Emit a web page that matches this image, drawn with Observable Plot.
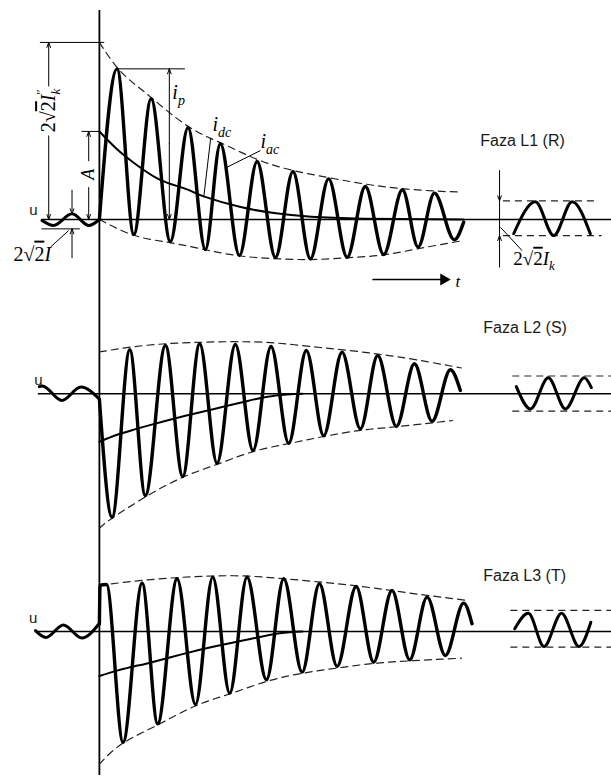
<!DOCTYPE html>
<html><head><meta charset="utf-8">
<script src="https://cdn.jsdelivr.net/npm/d3@7"></script>
<script src="https://cdn.jsdelivr.net/npm/@observablehq/plot@0.6"></script>
<style>
html,body{margin:0;padding:0;background:#fff;}
#chart svg{display:block;}
</style></head><body><div id="chart"></div>
<script>
// ---------------- DATA (time t in ms, current in p.u. of initial AC amplitude) ----------------
const phaseLabels = ["Faza L1 (R)", "Faza L2 (S)", "Faza L3 (T)"];

// Phase L1
const l1Pre    = [[-32.5,-0.01],[-25.9,-0.067],[-15.5,0.064],[-6.0,-0.067],[0,0]];
const l1Fault  = [[0,0],[10.0,1.693],[19.5,-0.169],[29.3,1.356],[40.2,-0.247],[50.2,1.034],[60,-0.337],[68.5,0.851],[79.3,-0.404],[89.3,0.652],[99.7,-0.427],[109.6,0.539],[119.5,-0.442],[129.8,0.457],[140.3,-0.424],[150.6,0.371],[161,-0.393],[171.6,0.334],[180.5,-0.31],[189.7,0.296],[201,-0.228],[206.3,-0.03]];
const l1Upper  = [[0,1.99],[10,1.71],[20,1.52],[30,1.36],[50,1.05],[70,0.85],[90,0.67],[110,0.55],[130,0.47],[150,0.40],[170,0.35],[190,0.32],[203,0.31]];
const l1Lower  = [[0,0],[20,-0.18],[40,-0.26],[60,-0.34],[80,-0.41],[100,-0.44],[120,-0.45],[140,-0.43],[160,-0.40],[180,-0.33],[205,-0.24]];
const l1Dc     = [[0,0.99],[10,0.79],[20,0.63],[33,0.46],[45,0.37],[52,0.32],[59,0.26],[80,0.14],[100,0.07],[120,0.03],[150,0.01],[206,0.0]];
const l1Steady = [[234.6,-0.16],[246.9,0.20],[257.3,-0.18],[267.7,0.20],[278.0,-0.16]];
const l1Band   = [{y:0.21, x1:228.8, x2:280.9},{y:-0.18, x1:228.8, x2:284.7}];

// Phase L2
const l2Pre    = [[-34.0,0.08],[-32.3,0.088],[-21.2,-0.075],[-10.5,0.076],[0,-0.06]];
const l2Fault  = [[0,-0.06],[7.2,-1.387],[17.2,0.494],[26,-1.143],[37.4,0.543],[47.2,-0.929],[56.8,0.562],[66.6,-0.780],[77,0.554],[87,-0.637],[97.2,0.531],[107.2,-0.555],[117.2,0.487],[127,-0.471],[137.4,0.467],[147.8,-0.393],[157.6,0.430],[168.2,-0.367],[178.4,0.337],[188.4,-0.308],[198.8,0.270],[204.4,0.037]];
const l2Upper  = [[0,0.47],[20,0.53],[40,0.565],[60,0.58],[80,0.585],[100,0.57],[120,0.53],[140,0.49],[160,0.44],[180,0.38],[205,0.29]];
const l2Lower  = [[0,-1.51],[7,-1.40],[26,-1.16],[47,-0.94],[67,-0.79],[87,-0.65],[107,-0.56],[127,-0.48],[148,-0.41],[168,-0.37],[200,-0.30]];
const l2Dc     = [[0,-0.54],[10,-0.46],[20,-0.40],[27,-0.36],[46,-0.26],[65,-0.17],[84,-0.08],[100,-0.02],[115,0]];
const l2Steady = [[236.1,0.08],[244.1,-0.17],[254.2,0.18],[263.9,-0.17],[274.6,0.18],[278.6,0.07]];
const l2Band   = [{y:0.20, x1:234.1, x2:290},{y:-0.195, x1:234.1, x2:290}];

// Phase L3
const l3Pre    = [[-36.2,0.01],[-30.3,-0.067],[-20.4,0.073],[-9.9,-0.073],[-0.3,0.084]];
const l3Fault  = [[0,0.084],[0.4,0.52],[4.0,0.528],[13.4,-1.244],[24.2,0.543],[33,-1.037],[44,0.592],[54.4,-0.820],[64.2,0.610],[73.8,-0.693],[83.6,0.610],[94.6,-0.543],[104.4,0.592],[114.8,-0.457],[124.6,0.536],[134.6,-0.393],[145.4,0.506],[155.3,-0.345],[165.7,0.461],[175.7,-0.318],[185.6,0.386],[195.9,-0.270],[206.3,0.318],[211,0.087]];
const l3Upper  = [[0,0.52],[20,0.565],[40,0.60],[60,0.62],[80,0.625],[100,0.60],[120,0.565],[140,0.525],[160,0.475],[180,0.42],[208,0.35]];
const l3Lower  = [[0,-1.49],[13,-1.26],[33,-1.05],[54,-0.84],[74,-0.70],[95,-0.56],[115,-0.47],[135,-0.41],[155,-0.36],[176,-0.33],[205,-0.30]];
const l3Dc     = [[0,-0.50],[10,-0.44],[20,-0.39],[27,-0.36],[46,-0.26],[65,-0.17],[84,-0.09],[102,-0.02],[115,0]];
const l3Steady = [[235.2,0.03],[242.9,0.205],[251.8,-0.169],[261.7,0.205],[271.6,-0.169],[278.3,0.104]];
const l3Band   = [{y:0.236, x1:233, x2:290},{y:-0.176, x1:233, x2:290}];

// Phase L1 dimension annotations (values in data units)
const dimLines = [
  {y:1.99,  x1:-33.4, x2:3},     // 2√2I"k level
  {y:0.99,  x1:-9.8,  x2:0.5},   // A level
  {y:1.693, x1:10.8,  x2:48.7},  // ip level
  {y:-0.105,x1:-32.5, x2:-10.8}  // 2√2I bottom level
];
const dimArrows = [
  {x1:-28.7,y1:1.50,x2:-28.7,y2:1.99},{x1:-28.7,y1:0.94,x2:-28.7,y2:0.0},
  {x1:-6.06,y1:0.66,x2:-6.06,y2:0.99},{x1:-6.06,y1:0.36,x2:-6.06,y2:0.0},
  {x1:39.6,y1:0.85,x2:39.6,y2:1.693},{x1:39.6,y1:0.85,x2:39.6,y2:0.0},
  {x1:-15.5,y1:0.33,x2:-15.5,y2:0.064},{x1:-15.5,y1:-0.43,x2:-15.5,y2:-0.105},
  {x1:226.6,y1:0.55,x2:226.6,y2:0.21},{x1:226.6,y1:-0.535,x2:226.6,y2:-0.18}
];
const dimVertical = [{x:226.6, y1:0.21, y2:-0.18}];
const leaders = [
  {x1:63.0,y1:0.91,x2:59.1,y2:0.251},
  {x1:91.2,y1:0.775,x2:72.3,y2:0.588},
  {x1:-27.7,y1:-0.31,x2:-17.4,y2:-0.124},
  {x1:227.1,y1:-0.087,x2:239.4,y2:-0.35}
];
const timeArrow = [{x1:154.6, y1:-0.674, x2:195, y2:-0.674}];

// labels (key -> rich markup)
const IT = 'font-style="italic"';
const richText = {
  "@Ik2": `2√<tspan style="text-decoration:overline">2</tspan><tspan ${IT}>I</tspan><tspan ${IT} dy="5" font-size="13">k</tspan><tspan dx="-6" dy="-15" font-size="13">″</tspan>`,
  "@A":   'A',
  "@ip":  'i<tspan dy="6" font-size="14">p</tspan>',
  "@idc": 'i<tspan dy="6" font-size="14">dc</tspan>',
  "@iac": 'i<tspan dy="6" font-size="14">ac</tspan>',
  "@I2":  `2√<tspan style="text-decoration:overline">2</tspan><tspan ${IT}>I</tspan>`,
  "@Ik":  `2√<tspan style="text-decoration:overline">2</tspan><tspan ${IT}>I</tspan><tspan ${IT} dy="5" font-size="13">k</tspan>`,
  "@t":   't'
};

// ---------------- LAYOUT ----------------
const W = 611;
const T_DOMAIN = [-56, 290];
const INK = "#000";
const SERIF = "'Liberation Serif','Times New Roman',serif";
const SANS = "'Liberation Sans',Arial,sans-serif";

const panels = [
  {height:300, yDomain:[-0.910, 2.461], axis:[2.35,-0.910], zeroFrom:-32.5,
   pre:l1Pre, fault:l1Fault, upper:l1Upper, lower:l1Lower, dc:l1Dc, steady:l1Steady, band:l1Band,
   label:phaseLabels[0], labelPos:[215.7,0.888], uPos:[-37.4,0.10], extras:true},
  {height:240, yDomain:[-1.648, 1.048], axis:[1.048,-1.648], zeroFrom:-34.6,
   pre:l2Pre, fault:l2Fault, upper:l2Upper, lower:l2Lower, dc:l2Dc, steady:l2Steady, band:l2Band,
   label:phaseLabels[1], labelPos:[217.4,0.745], uPos:[-34.5,0.15]},
  {height:243, yDomain:[-1.708, 1.022], axis:[1.022,-1.618], zeroFrom:-36.2,
   pre:l3Pre, fault:l3Fault, upper:l3Upper, lower:l3Lower, dc:l3Dc, steady:l3Steady, band:l3Band,
   label:phaseLabels[2], labelPos:[217.4,0.62], uPos:[-37.5,0.146]}
];

function buildPanel(p) {
  const dash = "7,5";
  const marks = [
    Plot.ruleX([{x:0, y1:p.axis[0], y2:p.axis[1]}], {x:"x", y1:"y1", y2:"y2", stroke:INK, strokeWidth:1.8}),
    Plot.ruleY([{y:0, x1:p.zeroFrom, x2:T_DOMAIN[1]}], {y:"y", x1:"x1", x2:"x2", stroke:INK, strokeWidth:1.6}),
    Plot.line(p.upper, {curve:"natural", stroke:"#222", strokeWidth:1.2, strokeDasharray:dash}),
    Plot.line(p.lower, {curve:"natural", stroke:"#222", strokeWidth:1.2, strokeDasharray:dash}),
    Plot.ruleY(p.band, {y:"y", x1:"x1", x2:"x2", stroke:"#222", strokeWidth:1.2, strokeDasharray:dash}),
    Plot.line(p.dc, {curve:"natural", stroke:INK, strokeWidth:2}),
    Plot.line(p.pre, {curve:"monotone-x", stroke:INK, strokeWidth:3}),
    Plot.line(p.fault, {curve:"monotone-x", stroke:INK, strokeWidth:3.4, strokeLinejoin:"round"}),
    Plot.line(p.steady, {curve:"monotone-x", stroke:INK, strokeWidth:3}),
    Plot.text([p.label], {x:p.labelPos[0], y:p.labelPos[1], text:d=>d, textAnchor:"start", fontFamily:SANS, fontSize:16, fill:"#1a1a1a"}),
    Plot.text(["u"], {x:p.uPos[0], y:p.uPos[1], text:d=>d, fontFamily:SANS, fontSize:15, fill:"#1a1a1a"})
  ];
  if (p.extras) {
    marks.push(
      Plot.ruleY(dimLines, {y:"y", x1:"x1", x2:"x2", stroke:INK, strokeWidth:1}),
      Plot.ruleX(dimVertical, {x:"x", y1:"y1", y2:"y2", stroke:INK, strokeWidth:1}),
      Plot.arrow(dimArrows, {x1:"x1", y1:"y1", x2:"x2", y2:"y2", stroke:INK, strokeWidth:1, headLength:8, headAngle:40}),
      Plot.link(leaders, {x1:"x1", y1:"y1", x2:"x2", y2:"y2", stroke:INK, strokeWidth:1}),
      Plot.link(timeArrow, {x1:"x1", y1:"y1", x2:"x2", y2:"y2", stroke:INK, strokeWidth:1.6}),
      Plot.dot(timeArrow, {x:"x2", y:"y2", symbol:"triangle", rotate:90, r:4.5, fill:INK, stroke:null}),
      Plot.text(["@Ik2"], {x:-28.7, y:1.225, text:d=>d, rotate:-90, fontFamily:SERIF, fontSize:20}),
      Plot.text(["@A"],   {x:-6.6, y:0.51, text:d=>d, rotate:-90, fontFamily:SERIF, fontStyle:"italic", fontSize:18}),
      Plot.text(["@ip"],  {x:41.3, y:1.43, text:d=>d, textAnchor:"start", fontFamily:SERIF, fontStyle:"italic", fontSize:20}),
      Plot.text(["@idc"], {x:64.0, y:1.07, text:d=>d, textAnchor:"start", fontFamily:SERIF, fontStyle:"italic", fontSize:20}),
      Plot.text(["@iac"], {x:91.2, y:0.87, text:d=>d, textAnchor:"start", fontFamily:SERIF, fontStyle:"italic", fontSize:20}),
      Plot.text(["@I2"],  {x:-48.7, y:-0.39, text:d=>d, textAnchor:"start", fontFamily:SERIF, fontSize:20}),
      Plot.text(["@Ik"],  {x:234.4, y:-0.44, text:d=>d, textAnchor:"start", fontFamily:SERIF, fontSize:19}),
      Plot.text(["@t"],   {x:201.6, y:-0.70, text:d=>d, textAnchor:"start", fontFamily:SERIF, fontStyle:"italic", fontSize:17})
    );
  }
  const svg = Plot.plot({
    width: W, height: p.height, margin: 0,
    x: {domain: T_DOMAIN, range: [0, W], axis: null},
    y: {domain: p.yDomain, range: [p.height, 0], axis: null},
    style: {background: "transparent", overflow: "visible"},
    marks
  });
  svg.querySelectorAll("text").forEach(t => {
    const key = t.textContent;
    if (richText[key] !== undefined) t.innerHTML = richText[key];
  });
  return svg;
}

const root = document.getElementById("chart");
panels.forEach(p => root.appendChild(buildPanel(p)));
</script>
</body></html>
